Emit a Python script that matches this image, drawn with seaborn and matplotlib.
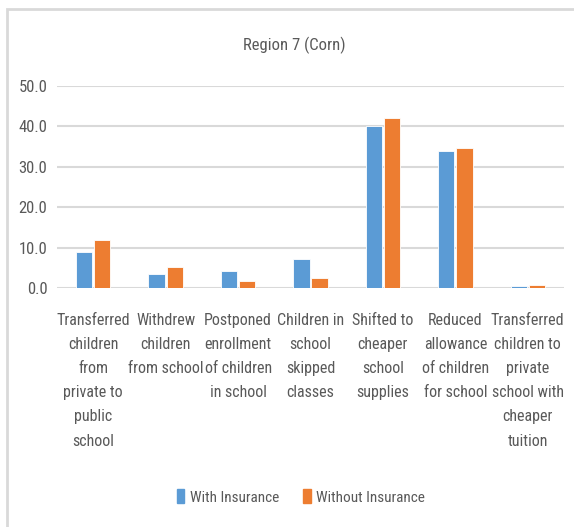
import matplotlib
matplotlib.use("Agg")
import matplotlib.pyplot as plt
import pandas as pd
import seaborn as sns
from matplotlib.patches import Rectangle

# values
categories = [
    "Transferred\nchildren\nfrom\nprivate to\npublic\nschool",
    "Withdrew\nchildren\nfrom school",
    "Postponed\nenrollment\nof children\nin school",
    "Children in\nschool\nskipped\nclasses",
    "Shifted to\ncheaper\nschool\nsupplies",
    "Reduced\nallowance\nof children\nfor school",
    "Transferred\nchildren to\nprivate\nschool with\ncheaper\ntuition",
]
with_insurance = [8.8, 3.5, 4.3, 7.3, 40.1, 33.9, 0.4]
without_insurance = [11.8, 5.3, 1.7, 2.5, 42.2, 34.7, 0.7]
series = ["With Insurance", "Without Insurance"]
colors = ["#5B9BD5", "#ED7D31"]
yticks = [0, 10, 20, 30, 40, 50]

df = pd.DataFrame({
    "category": categories * 2,
    "value": with_insurance + without_insurance,
    "series": [series[0]] * len(categories) + [series[1]] * len(categories),
})

sns.set_style("white")
plt.rcParams["font.family"] = ["Roboto Condensed", "DejaVu Sans"]
plt.rcParams["font.stretch"] = "condensed"
text_color = "#595959"

fig = plt.figure(figsize=(5.74, 5.27), dpi=100)
W, H = 574, 527
ax = fig.add_axes([57 / W, 1 - 288 / H, 507 / W, 202 / H])

sns.barplot(data=df, x="category", y="value", hue="series", palette=colors,
            saturation=1, width=0.5, gap=0.1, ax=ax, legend=False,
            edgecolor="white", linewidth=0.6)

ax.set_ylim(0, 50)
ax.set_xlim(-0.5, len(categories) - 0.5)
ax.set_yticks(yticks)
ax.set_yticklabels([f"{v:.1f}" for v in yticks], color=text_color, fontsize=12)
ax.set_xticks(range(len(categories)))
ax.set_xticklabels(categories, color=text_color, fontsize=11.5, linespacing=1.76)
ax.tick_params(axis="both", length=0)
ax.tick_params(axis="y", pad=7)
ax.tick_params(axis="x", pad=18)
ax.set_xlabel("")
ax.set_ylabel("")
ax.yaxis.grid(True, color="#D9D9D9", linewidth=1.5)
ax.set_axisbelow(True)
for s in ax.spines.values():
    s.set_visible(False)

fig.text(294 / W, 1 - 45 / H, "Region 7 (Corn)", ha="center", va="center",
         fontsize=12, color=text_color)

handles = [Rectangle((0, 0), 1, 1, color=c) for c in colors]
fig.legend(handles, series, loc="center", bbox_to_anchor=(301 / W, 1 - 497 / H),
           ncol=2, frameon=False, fontsize=11, handlelength=0.5,
           handleheight=1.0, handletextpad=0.35, columnspacing=1.6,
           labelcolor=text_color)

# chart frame
fig.patches.append(Rectangle((7 / W, -0.1), 1.1, 1 - 9 / H + 0.1,
                             transform=fig.transFigure, fill=False,
                             edgecolor="#D9D9D9", linewidth=2))

fig.savefig("out.png", dpi=100)
